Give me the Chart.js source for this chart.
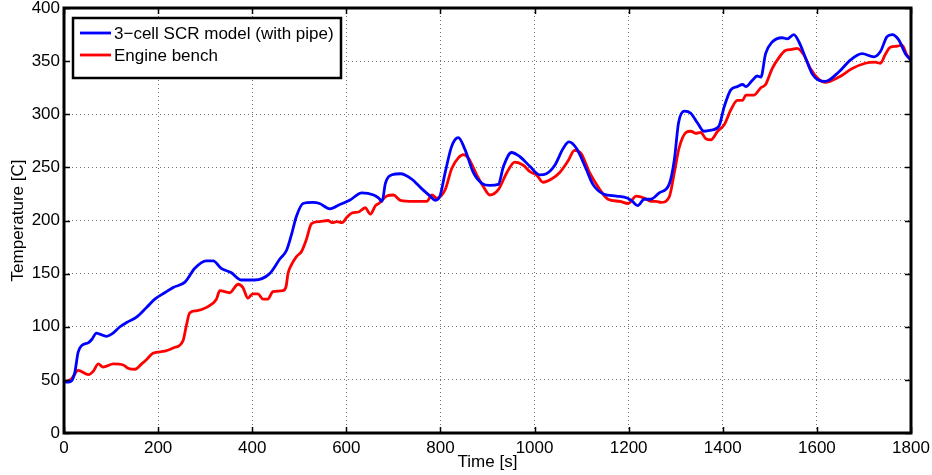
<!DOCTYPE html>
<html>
<head>
<meta charset="utf-8">
<script src="https://cdn.jsdelivr.net/npm/chart.js@4/dist/chart.umd.min.js"></script>
<style>
  html, body { margin: 0; padding: 0; background: #fff; }
  #wrap { width: 932px; height: 475px; }
</style>
</head>
<body>
<div id="wrap"><canvas id="grafico" width="932" height="475"></canvas></div>
<script>
// dados
const modeloTempo = [0, 10, 16, 23, 30, 37, 52, 59, 69, 76, 90, 101, 119, 133, 154, 175, 193, 214, 232, 257, 278, 302, 317, 334, 355, 377, 405, 437, 459, 473, 483, 494, 508, 529, 543, 565, 586, 607, 633, 658, 669, 676, 683, 697, 715, 739, 760, 778, 789, 799, 810, 824, 838, 852, 870, 888, 905, 923, 934, 951, 969, 990, 1011, 1025, 1043, 1061, 1073, 1089, 1110, 1124, 1146, 1174, 1198, 1208, 1219, 1233, 1247, 1265, 1286, 1297, 1306, 1318, 1332, 1346, 1360, 1375, 1392, 1403, 1417, 1431, 1442, 1449, 1463, 1473, 1481, 1491, 1505, 1526, 1537, 1551, 1562, 1576, 1590, 1604, 1618, 1647, 1671, 1696, 1721, 1735, 1749, 1760, 1774, 1788, 1800];
const modeloTemp = [48, 48, 49, 57, 76, 82, 85, 88, 94, 93, 91, 93, 100, 104, 109, 118, 126, 132, 137, 142, 155, 162, 162, 155, 151, 144, 144, 150, 164, 172, 186, 204, 216, 217, 216, 211, 215, 219, 226, 224, 221, 218, 235, 243, 244, 239, 230, 223, 219, 223, 245, 270, 278, 267, 245, 235, 233, 234, 251, 264, 260, 251, 243, 244, 252, 268, 274, 268, 248, 234, 225, 223, 221, 218, 214, 220, 220, 226, 234, 257, 292, 303, 301, 292, 284, 285, 289, 307, 323, 326, 328, 326, 332, 336, 335, 357, 368, 372, 371, 375, 368, 353, 338, 332, 331, 340, 351, 357, 354, 359, 373, 375, 370, 357, 351];

const bancadaTempo = [0, 16, 30, 52, 62, 73, 83, 105, 126, 136, 151, 165, 175, 189, 214, 232, 253, 260, 267, 281, 302, 324, 331, 352, 370, 380, 391, 401, 412, 423, 433, 444, 465, 472, 476, 483, 494, 505, 515, 526, 543, 561, 570, 580, 591, 601, 612, 626, 640, 651, 662, 669, 686, 700, 715, 743, 771, 782, 792, 810, 824, 838, 849, 859, 877, 891, 905, 923, 941, 958, 976, 990, 1004, 1018, 1036, 1053, 1071, 1085, 1099, 1117, 1139, 1156, 1181, 1199, 1216, 1234, 1247, 1258, 1269, 1286, 1297, 1307, 1322, 1332, 1343, 1353, 1364, 1375, 1389, 1403, 1417, 1431, 1442, 1449, 1466, 1481, 1491, 1505, 1519, 1533, 1547, 1558, 1572, 1586, 1604, 1618, 1647, 1675, 1703, 1724, 1735, 1745, 1756, 1770, 1781, 1791, 1800];
const bancadaTemp = [48, 51, 59, 55, 58, 65, 62, 65, 64, 61, 60, 65, 69, 75, 77, 80, 87, 101, 113, 115, 118, 126, 134, 132, 140, 137, 127, 131, 131, 126, 126, 133, 134, 138, 150, 158, 166, 171, 182, 197, 199, 200, 198, 199, 198, 203, 207, 208, 212, 206, 214, 216, 223, 224, 219, 218, 218, 224, 221, 229, 249, 259, 262, 259, 243, 232, 224, 229, 245, 255, 252, 246, 243, 236, 239, 245, 256, 266, 263, 245, 229, 220, 218, 216, 223, 221, 218, 218, 217, 222, 245, 268, 283, 284, 282, 283, 277, 276, 284, 290, 304, 313, 313, 318, 318, 325, 328, 343, 353, 360, 361, 362, 356, 343, 333, 330, 335, 343, 348, 349, 348, 356, 363, 364, 365, 356, 351];

const nomesSeries = ["3\u2212cell SCR model (with pipe)", "Engine bench"];
const coresSeries = ["#0000ff", "#ff0000"];
const ticksX = [0, 200, 400, 600, 800, 1000, 1200, 1400, 1600, 1800];
const ticksY = [0, 50, 100, 150, 200, 250, 300, 350, 400];

const FONTE = "'Liberation Sans', Arial, Helvetica, sans-serif";
const TAM_FONTE = 17;

function pontos(tempos, temps) {
    return tempos.map((t, i) => ({ x: t, y: temps[i] }));
}

// caixa preta + ticks para dentro (estilo matlab)
const caixaPlugin = {
    id: "caixa",
    afterDraw(chart) {
        const { ctx, chartArea: a, scales } = chart;
        ctx.save();
        ctx.strokeStyle = "#000";
        ctx.lineWidth = 1.5;
        const tam = 6;
        ticksX.forEach(v => {
            const px = Math.round(scales.x.getPixelForValue(v)) + 0.5;
            ctx.beginPath();
            ctx.moveTo(px, a.bottom); ctx.lineTo(px, a.bottom - tam);
            ctx.moveTo(px, a.top); ctx.lineTo(px, a.top + tam);
            ctx.stroke();
        });
        ticksY.forEach(v => {
            const py = Math.round(scales.y.getPixelForValue(v)) + 0.5;
            ctx.beginPath();
            ctx.moveTo(a.left, py); ctx.lineTo(a.left + tam, py);
            ctx.moveTo(a.right, py); ctx.lineTo(a.right - tam, py);
            ctx.stroke();
        });
        ctx.lineWidth = 3;
        ctx.strokeRect(a.left, a.top, a.right - a.left, a.bottom - a.top);

        // legenda dentro da área
        const lx = a.left + 9, ly = a.top + 10, lw = 268, lh = 60;
        ctx.fillStyle = "#fff";
        ctx.fillRect(lx, ly, lw, lh);
        ctx.lineWidth = 2.5;
        ctx.strokeRect(lx, ly, lw, lh);
        ctx.font = TAM_FONTE + "px " + FONTE;
        ctx.textBaseline = "middle";
        ctx.textAlign = "left";
        chart.data.datasets.forEach((ds, i) => {
            const y = ly + 15 + i * 22;
            ctx.strokeStyle = ds.borderColor;
            ctx.lineWidth = 2.8;
            ctx.beginPath();
            ctx.moveTo(lx + 7, y); ctx.lineTo(lx + 38, y);
            ctx.stroke();
            ctx.fillStyle = "#000";
            ctx.fillText(ds.label, lx + 41, y + 1);
        });
        ctx.restore();
    }
};

const grade = {
    color: "rgba(0,0,0,0.55)",
    lineWidth: 1,
    drawTicks: false
};

const semPadding = s => { s.paddingTop = 0; s.paddingBottom = 0; s.paddingLeft = 0; s.paddingRight = 0; };

new Chart(document.getElementById("grafico"), {
    type: "line",
    data: {
        datasets: [
            {
                label: nomesSeries[0],
                data: pontos(modeloTempo, modeloTemp),
                borderColor: coresSeries[0],
                borderWidth: 2.8,
                pointRadius: 0,
                cubicInterpolationMode: "monotone",
                fill: false
            },
            {
                label: nomesSeries[1],
                data: pontos(bancadaTempo, bancadaTemp),
                borderColor: coresSeries[1],
                borderWidth: 2.8,
                pointRadius: 0,
                cubicInterpolationMode: "monotone",
                fill: false
            }
        ]
    },
    options: {
        responsive: false,
        animation: false,
        layout: { padding: { top: 8, right: 21, left: 0, bottom: 0 } },
        plugins: { legend: { display: false }, tooltip: { enabled: false } },
        scales: {
            x: {
                type: "linear",
                min: 0, max: 1800,
                afterBuildTicks: s => { s.ticks = ticksX.map(v => ({ value: v })); },
                afterFit: s => { s.height = 42; semPadding(s); },
                grid: grade,
                border: { display: false, dash: [1, 3] },
                ticks: { color: "#000", padding: 5, callback: v => String(v), font: { family: FONTE, size: TAM_FONTE } },
                title: { display: true, text: "Time [s]", color: "#000", padding: { top: 0, bottom: 2 }, font: { family: FONTE, size: TAM_FONTE } }
            },
            y: {
                min: 0, max: 400,
                afterBuildTicks: s => { s.ticks = ticksY.map(v => ({ value: v })); },
                afterFit: s => { s.width = 64; semPadding(s); },
                grid: grade,
                border: { display: false, dash: [1, 3] },
                ticks: { color: "#000", padding: 4, callback: v => String(v), font: { family: FONTE, size: TAM_FONTE } },
                title: { display: true, text: "Temperature [C]", color: "#000", padding: { top: 8, bottom: 0 }, font: { family: FONTE, size: TAM_FONTE } }
            }
        }
    },
    plugins: [caixaPlugin]
});
</script>
</body>
</html>
